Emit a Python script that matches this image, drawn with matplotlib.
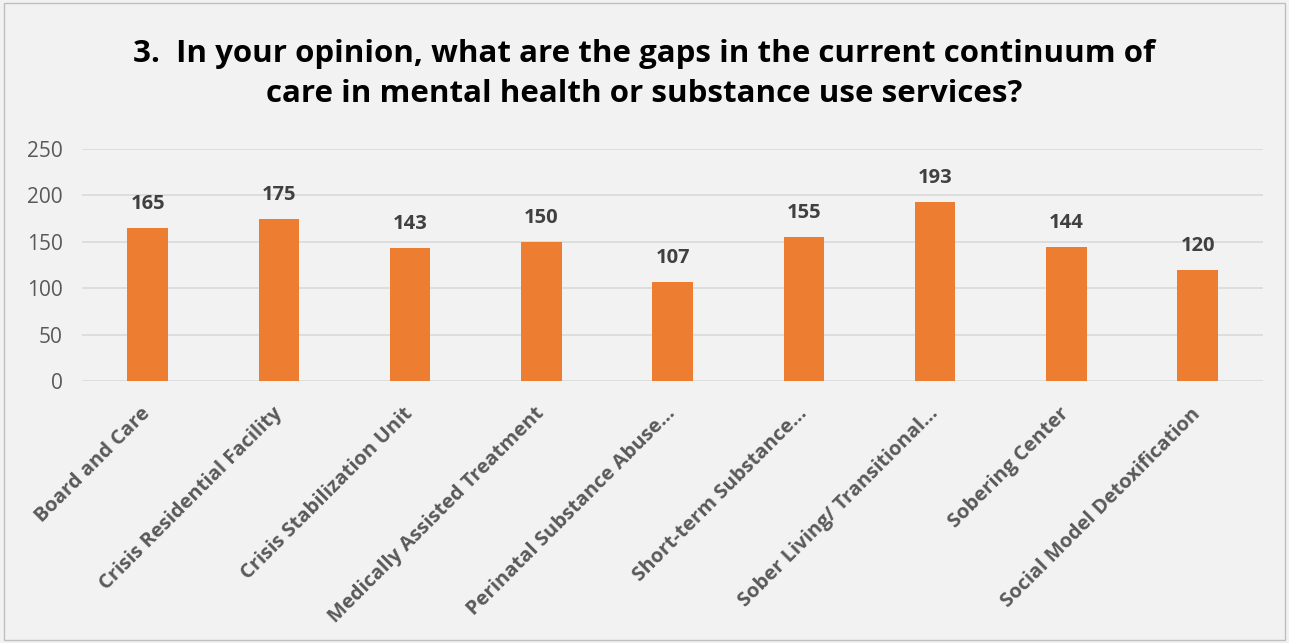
#!/usr/bin/env python
"""Bar chart: gaps in the continuum of care (survey question 3)."""
import matplotlib

matplotlib.use("Agg")
import matplotlib.pyplot as plt
from matplotlib.patches import Rectangle
from matplotlib.transforms import ScaledTranslation

categories = [
    "Board and Care",
    "Crisis Residential Facility",
    "Crisis Stabilization Unit",
    "Medically Assisted Treatment",
    "Perinatal Substance Abuse...",
    "Short-term Substance...",
    "Sober Living/ Transitional...",
    "Sobering Center",
    "Social Model Detoxification",
]
counts = [165, 175, 143, 150, 107, 155, 193, 144, 120]
y_ticks = [0, 50, 100, 150, 200, 250]
title = "3.  In your opinion, what are the gaps in the current continuum of\ncare in mental health or substance use services?"

BG = "#F2F2F2"
BAR = "#ED7D31"
GRID = "#D9D9D9"
TXT = "#595959"

plt.rcParams["font.family"] = ["Open Sans", "DejaVu Sans"]

fig = plt.figure(figsize=(12.89, 6.43), dpi=100, facecolor=BG)
fig.patches.append(Rectangle((0.003, 0.004), 0.994, 0.992, transform=fig.transFigure,
                             fill=False, edgecolor="#BFBFBF", linewidth=1.0))
ax = fig.add_axes([0.0636, 0.4075, 0.9164, 0.3608], facecolor=BG)

x = range(len(categories))
bars = ax.bar(x, counts, width=0.31, color=BAR, zorder=3)
for rect, val in zip(bars, counts):
    ax.annotate(str(val), (rect.get_x() + rect.get_width() / 2, val),
                xytext=(0, 10), textcoords="offset points", ha="center", va="bottom",
                fontsize=14.5, fontweight="bold", color="#404040")

ax.set_xlim(-0.5, len(categories) - 0.5)
ax.set_ylim(0, 250)
ax.set_yticks(y_ticks)
ax.yaxis.grid(True, color=GRID, linewidth=1.2, zorder=0)
for s in ax.spines.values():
    s.set_visible(False)
ax.tick_params(axis="both", length=0, colors=TXT, labelsize=15)
ax.tick_params(axis="y", pad=14)

ax.set_xticks(list(x))
ax.set_xticklabels(categories, rotation=45, ha="right", va="center",
                   rotation_mode="anchor", fontweight="bold", fontsize=14.5, color=TXT)
offset = ScaledTranslation(0.0, -0.25, fig.dpi_scale_trans)
for lab in ax.get_xticklabels():
    lab.set_transform(lab.get_transform() + offset)

fig.text(0.5, 0.885, title, ha="center", va="center", fontsize=22.5,
         fontweight="bold", color="black", linespacing=1.45)

fig.savefig("out.png", dpi=100, facecolor=BG)
